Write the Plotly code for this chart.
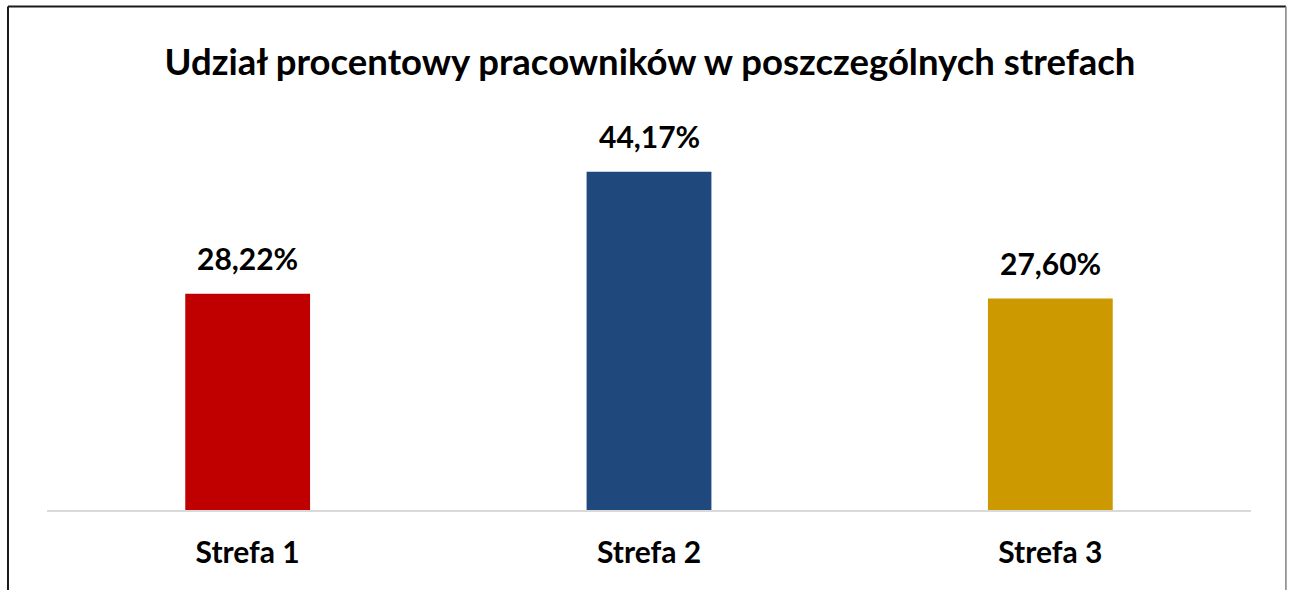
import plotly.graph_objects as go

categories = ["Strefa 1", "Strefa 2", "Strefa 3"]
shares = [28.22, 44.17, 27.60]
bar_colors = ["#C00000", "#1F497D", "#CC9900"]
title_text = "Udział procentowy pracowników w poszczególnych strefach"

FONT = "Lato"

fig = go.Figure()
fig.add_trace(go.Bar(
    x=categories, y=shares,
    marker=dict(color=bar_colors, line=dict(width=0)),
    hoverinfo="skip",
))

for c, v in zip(categories, shares):
    fig.add_annotation(
        x=c, y=v, xref="x", yref="y",
        text=f"{v:.2f}".replace(".", ",") + "%",
        showarrow=False, yanchor="bottom", yshift=16,
        font=dict(family=FONT, size=30, color="#000000", weight="bold"),
    )

# frame lines (screenshot border)
fig.add_shape(type="line", xref="paper", yref="paper", x0=-0.0324, x1=-0.0324, y0=-0.3, y1=1.3147,
              line=dict(color="#1a1a1a", width=2))
fig.add_shape(type="line", xref="paper", yref="paper", x0=-0.0324, x1=1.029, y0=1.3147, y1=1.3147,
              line=dict(color="#1a1a1a", width=2))
fig.add_shape(type="line", xref="paper", yref="paper", x0=1.029, x1=1.029, y0=-0.3, y1=1.3147,
              line=dict(color="#808080", width=1.5))

fig.update_layout(
    width=1291, height=590,
    margin=dict(l=47, r=40, t=127, b=80, autoexpand=False),
    paper_bgcolor="white", plot_bgcolor="white",
    bargap=0.689,
    showlegend=False,
    title=dict(text=title_text, x=650/1291, xanchor="center", y=1-62/590, yanchor="middle",
               yref="container", xref="container",
               font=dict(family=FONT, size=36.5, color="#000000", weight="bold")),
    xaxis=dict(showline=True, linecolor="#D9D9D9", linewidth=2, ticks="", showgrid=False,
               tickfont=dict(family=FONT, size=30, color="#000000", weight="bold"),
               ticklabelstandoff=15, fixedrange=True),
    yaxis=dict(range=[0, 50], visible=False, showgrid=False, zeroline=False, fixedrange=True),
)

fig.write_html("out.html", config={"displayModeBar": False},
               post_script="document.body.style.margin='0';document.body.style.overflow='hidden';")
